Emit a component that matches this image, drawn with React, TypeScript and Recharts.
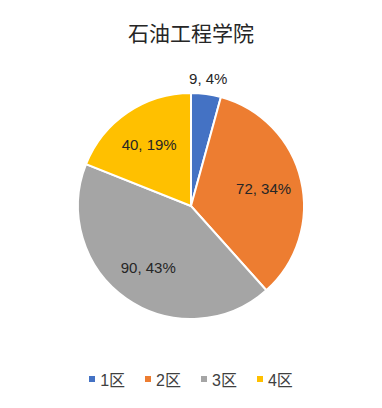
import React from 'react';
import { PieChart, Pie, Cell, Legend } from 'recharts';

const title = '石油工程学院';
const categories = ['1区', '2区', '3区', '4区'];
const counts = [9, 72, 90, 40];
const colors = ['#4472C4', '#ED7D31', '#A5A5A5', '#FFC000'];

const data = categories.map((name, i) => ({ name, value: counts[i] }));

const FONT = '"Liberation Sans", Arial, "Noto Sans CJK SC", sans-serif';
const RADIAN = Math.PI / 180;

// Excel-style "value, percent" labels; the tiny slice gets pushed outside
const renderLabel = (props: any) => {
  const { cx, cy, midAngle, outerRadius, percent, value } = props;
  const r = percent < 0.05 ? outerRadius + 16 : outerRadius * 0.66;
  const x = cx + r * Math.cos(-midAngle * RADIAN);
  const y = cy + r * Math.sin(-midAngle * RADIAN);
  return (
    <text
      x={x}
      y={y}
      fill="#262626"
      fontSize={15}
      fontFamily={FONT}
      textAnchor="middle"
      dominantBaseline="central"
    >
      {`${value}, ${Math.round(percent * 100)}%`}
    </text>
  );
};

const renderLegend = () => (
  <div style={{ display: 'flex', justifyContent: 'center', gap: 20, fontFamily: FONT, fontSize: 16, color: '#404040' }}>
    {categories.map((c, i) => (
      <div key={c} style={{ display: 'flex', alignItems: 'center' }}>
        <span style={{ width: 6, height: 6, background: colors[i], marginRight: 5, display: 'inline-block' }} />
        <span>{c}</span>
      </div>
    ))}
  </div>
);

export default function App() {
  return (
    <div style={{ position: 'absolute', left: 0, top: 0, width: 382, height: 408, background: '#fff' }}>
      <div
        style={{
          position: 'absolute',
          top: 18,
          left: 0,
          width: 382,
          textAlign: 'center',
          fontFamily: '"Noto Sans CJK SC", sans-serif',
          fontSize: 21,
          lineHeight: '28px',
          color: '#262626',
        }}
      >
        {title}
      </div>
      <PieChart width={382} height={408} margin={{ top: 0, right: 0, bottom: 0, left: 0 }}>
        <Pie
          data={data}
          dataKey="value"
          nameKey="name"
          cx={191}
          cy={206}
          outerRadius={113}
          startAngle={90}
          endAngle={-270}
          stroke="#fff"
          strokeWidth={2}
          label={renderLabel}
          labelLine={false}
          isAnimationActive={false}
        >
          {data.map((d, i) => (
            <Cell key={d.name} fill={colors[i]} />
          ))}
        </Pie>
        <Legend content={renderLegend} wrapperStyle={{ top: 367, left: 0, width: 382 }} />
      </PieChart>
    </div>
  );
}
